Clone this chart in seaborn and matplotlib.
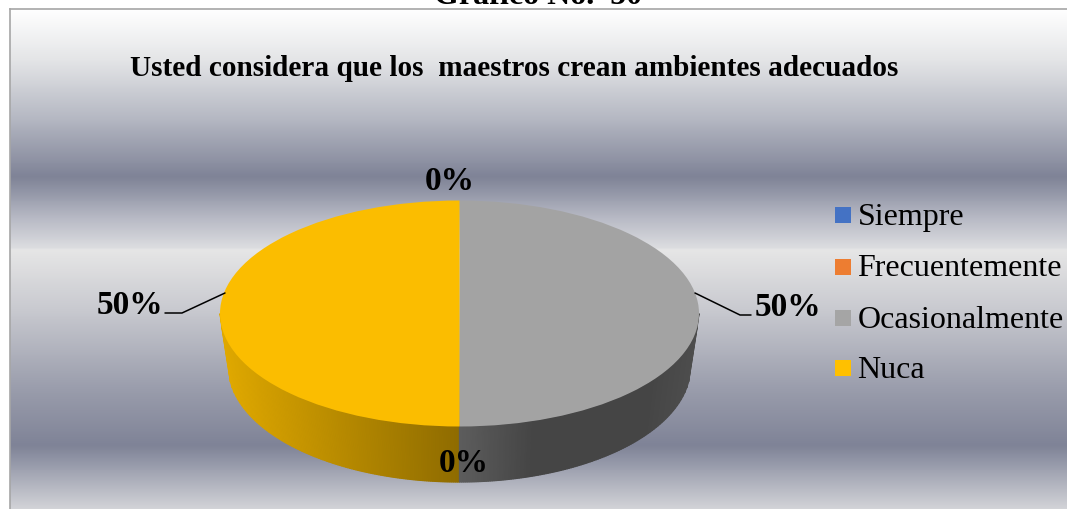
import numpy as np
import matplotlib
matplotlib.use("Agg")
import matplotlib.pyplot as plt
from matplotlib.colors import LinearSegmentedColormap, to_rgb
from matplotlib.patches import Rectangle
from matplotlib.transforms import Affine2D
import seaborn as sns

categories = ["Siempre", "Frecuentemente", "Ocasionalmente", "Nuca"]
values = [0, 0, 50, 50]
labels_pct = ["0%", "0%", "50%", "50%"]
colors = ["#4472C4", "#ED7D31", "#A5A5A5", "#FFC000"]
title = "Usted considera que los  maestros crean ambientes adecuados"
heading = "Gráfico No.  50"

sns.set_theme(style="white")
plt.rcParams["font.family"] = ["Liberation Serif", "DejaVu Serif"]

W, H = 1067, 510
fig = plt.figure(figsize=(W / 100, H / 100), dpi=100, facecolor="white")

def px_axes(x0, y0, x1, y1):
    return fig.add_axes([x0 / W, 1 - y1 / H, (x1 - x0) / W, (y1 - y0) / H])

# chart-area gradient
bg = px_axes(9.5, 10, 1067, 510)
stops = [(0.0, "#ffffff"), (0.10, "#e4e5e7"), (0.22, "#b4b7c2"), (0.335, "#7f8397"),
         (0.36, "#8f93a4"), (0.42, "#b9bbc6"), (0.478, "#dcdde0"), (0.482, "#e6e6e6"),
         (0.60, "#c9cad0"), (0.76, "#9a9dac"), (0.875, "#7f8397"), (0.90, "#8f93a4"),
         (1.0, "#d2d3d7")]
cmap = LinearSegmentedColormap.from_list("bg", stops, N=512)
bg.imshow(np.linspace(0, 1, 500)[:, None], aspect="auto", cmap=cmap, vmin=0, vmax=1,
          extent=(0, 1, 1, 0))
bg.set_xticks([]); bg.set_yticks([])
for side in ("right", "bottom"):
    bg.spines[side].set_visible(False)
for side in ("left", "top"):
    bg.spines[side].set_color("#a6a6a6")
    bg.spines[side].set_linewidth(1.2)

# pie: data units = pixels relative to the ellipse centre, y up
ax = px_axes(0, 0, W, H)
ax.patch.set_alpha(0)
cx, cy, rx, ry = 459.5, 314.5, 239.5, 113
rx2, cy2, ry2 = 231.0, 368.0, 115.0     # lower rim (perspective: slightly narrower)

def darken(c, f):
    return tuple(v * f for v in to_rgb(c))

def shade_left(t):      # t = 0 at the front centre, 1 at the left edge
    return 0.56 + 0.32 * t

def shade_right(t):     # t = 0 at the front centre, 1 at the right edge
    grey = 0.56 - 0.14 * min(1, t / 0.3)
    return grey + 0.05 * max(0, t - 0.8) / 0.2

# side wall, drawn strip by strip from the outer edge to the front
ts = np.linspace(1, 0, 121)
for a, b in zip(ts[:-1], ts[1:]):
    for sign, col, shade in ((-1, colors[3], shade_left), (1, colors[2], shade_right)):
        xt = sign * rx * np.array([a, b])
        yt = -ry * np.sqrt(1 - np.array([a, b]) ** 2)
        xb = sign * rx2 * np.array([b, a])
        yb = -(cy2 - cy) - ry2 * np.sqrt(1 - np.array([b, a]) ** 2)
        ax.fill(np.r_[xt, xb], np.r_[yt, yb], color=darken(col, shade((a + b) / 2)),
                lw=0.9, zorder=1)

wedges, _ = ax.pie(values, colors=[darken(c, 0.985) for c in colors], startangle=90,
                   counterclock=False, radius=rx, center=(0, 0), frame=True,
                   wedgeprops={"linewidth": 0}, normalize=True)
squash = Affine2D().scale(1, ry / rx) + ax.transData
for w in wedges:
    w.set_zorder(3)
    w.set_transform(squash)
ax.set_aspect("auto")
ax.set_xlim(-cx, W - cx)
ax.set_ylim(-(H - cy), cy)
ax.axis("off")

def to_xy(px, py):
    return px - cx, cy - py

# data labels with leader lines
lab = dict(fontsize=24, fontweight="bold", color="black", ha="center", va="center", zorder=5)
ax.text(*to_xy(450, 182), labels_pct[0], **lab)
ax.text(*to_xy(464, 464), labels_pct[1], **lab)
ax.text(*to_xy(788, 308), labels_pct[2], **lab)
ax.text(*to_xy(129.5, 305), labels_pct[3], **lab)
for pts in ([(695, 294), (740, 316), (751, 316)], [(165, 314), (182, 314), (225, 294)]):
    xy = np.array([to_xy(*p) for p in pts])
    ax.plot(xy[:, 0], xy[:, 1], color="black", lw=1.1, zorder=5)

# legend
baselines = [225, 276.5, 327.5, 378]
for c, name, y in zip(colors, categories, baselines):
    ax.add_patch(Rectangle(to_xy(835, y - 1), 16, 16, facecolor=c, edgecolor="none", zorder=5))
    ax.text(*to_xy(857.5, y), name, fontsize=23, color="black", ha="left", va="baseline", zorder=5)

ax.text(*to_xy(514.5, 68.5), title, fontsize=21.1, fontweight="bold", color="black",
        ha="center", va="center", zorder=5)
ax.text(*to_xy(538, -4), heading, fontsize=23, fontweight="bold", color="black",
        ha="center", va="center", zorder=5, clip_on=False)

fig.savefig("out.png", dpi=100)
